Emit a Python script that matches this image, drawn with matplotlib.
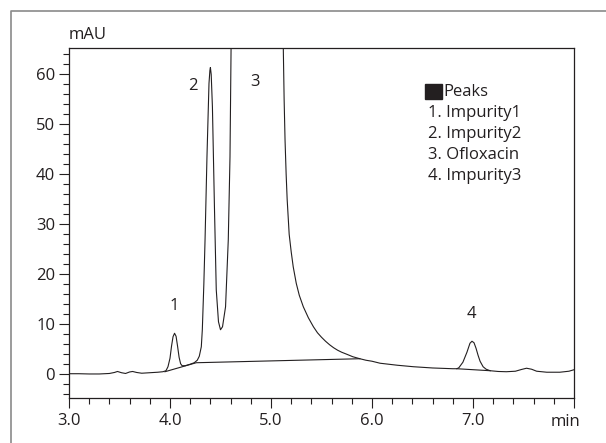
import matplotlib
matplotlib.use("Agg")
import matplotlib.pyplot as plt
from matplotlib.lines import Line2D
from matplotlib.patches import Rectangle
from matplotlib.ticker import MultipleLocator

plt.rcParams['font.family'] = ['Open Sans', 'DejaVu Sans']

# Chromatogram trace (time in min, signal in mAU)
time_min = [3.00, 3.10, 3.20, 3.30, 3.40, 3.45, 3.48, 3.52, 3.56, 3.60, 3.63, 3.67, 3.72, 3.80, 3.88, 3.93,
            3.96, 3.98, 4.00, 4.015, 4.03, 4.045, 4.06, 4.075, 4.09, 4.105, 4.12, 4.15, 4.20, 4.24, 4.27, 4.29,
            4.31, 4.32, 4.335, 4.347, 4.366, 4.386, 4.395, 4.40, 4.408, 4.42, 4.44, 4.458, 4.48, 4.50, 4.52,
            4.55, 4.577, 4.594, 4.605, 4.62, 5.10, 5.122, 5.13, 5.139, 5.15, 5.16, 5.18, 5.20, 5.22, 5.25,
            5.28, 5.32, 5.37, 5.42, 5.46, 5.50, 5.54, 5.58, 5.62, 5.66, 5.70, 5.75, 5.81, 5.88, 5.94,
            6.00, 6.08, 6.25, 6.41, 6.60, 6.80, 6.84, 6.86, 6.90, 6.94, 6.97, 6.99, 7.01, 7.03, 7.05, 7.07,
            7.10, 7.13, 7.17, 7.25, 7.33, 7.42, 7.48, 7.53, 7.58, 7.63, 7.73, 7.86, 7.95, 8.00]
signal_mau = [0.10, 0.10, 0.05, 0.05, 0.15, 0.35, 0.55, 0.30, 0.15, 0.45, 0.55, 0.35, 0.20, 0.30, 0.40, 0.50,
              0.70, 1.50, 3.20, 5.60, 7.50, 8.20, 7.60, 5.60, 3.40, 2.10, 1.70, 1.70, 2.00, 2.30, 2.80, 3.60,
              5.50, 8.90, 18.0, 26.9, 43.5, 58.2, 60.8, 61.4, 60.0, 53.5, 33.5, 16.9, 10.5, 8.90, 9.50,
              13.5, 26.9, 43.5, 66.0, 150.0, 150.0, 65.0, 55.0, 46.9, 40.0, 35.0, 28.0, 24.5, 21.5, 18.2,
              15.8, 13.5, 11.3, 9.50, 8.30, 7.40, 6.60, 5.90, 5.30, 4.80, 4.40, 4.00, 3.50, 3.10, 2.80,
              2.60, 2.20, 1.80, 1.50, 1.25, 1.10, 1.10, 1.30, 2.40, 4.40, 6.20, 6.60, 6.30, 5.20, 3.80, 2.60,
              1.50, 1.00, 0.70, 0.55, 0.50, 0.60, 0.95, 1.20, 1.00, 0.60, 0.40, 0.40, 0.60, 0.90]

# Integration baselines
base1_t = [3.95, 4.26, 5.88]
base1_v = [0.50, 2.30, 3.10]
base2_t = [6.84, 7.17]
base2_v = [1.10, 0.70]

# Peak labels
peak_ids = ["1", "2", "3", "4"]
peak_label_t = [4.04, 4.23, 4.84, 6.98]
peak_label_v = [13.7, 57.7, 58.5, 12.0]

legend_title = "Peaks"
legend_items = ["1. Impurity1", "2. Impurity2", "3. Ofloxacin", "4. Impurity3"]

x_ticks = [3.0, 4.0, 5.0, 6.0, 7.0, 8.0]
x_ticklabels = ["3.0", "4.0", "5.0", "6.0", "7.0", ""]
y_ticks = [0, 10, 20, 30, 40, 50, 60]

W, H = 606, 443
FS = 12
fig = plt.figure(figsize=(W / 100, H / 100), dpi=100)
ax = fig.add_axes([69 / W, 1 - 397.7 / H, (574 - 69) / W, (397.7 - 48) / H])

ink = "#231f20"
ax.plot(time_min, signal_mau, color=ink, lw=0.8)
ax.plot(base1_t, base1_v, color=ink, lw=0.8)
ax.plot(base2_t, base2_v, color=ink, lw=0.8)

ax.set_xlim(3.0, 8.0)
ax.set_ylim(-4.7, 65.3)
ax.set_xticks(x_ticks)
ax.set_xticklabels(x_ticklabels)
ax.set_yticks(y_ticks)
ax.xaxis.set_minor_locator(MultipleLocator(0.2))
ax.yaxis.set_minor_locator(MultipleLocator(2))
ax.tick_params(which='major', direction='out', length=7, width=0.8, color=ink,
               labelsize=FS, labelcolor=ink)
ax.tick_params(which='minor', direction='out', length=4, width=0.8, color=ink)
ax.tick_params(axis='x', which='major', pad=4)
ax.tick_params(axis='y', which='major', pad=3)
for s in ax.spines.values():
    s.set_color(ink)
    s.set_linewidth(0.9)

for lab, t, v in zip(peak_ids, peak_label_t, peak_label_v):
    ax.text(t, v, lab, ha='center', va='center', fontsize=FS, color=ink)

# axis unit labels
fig.text(69 / W, 1 - 35 / H, "mAU", ha='left', va='center', fontsize=FS, color=ink)
fig.text(565 / W, 1 - 421.5 / H, "min", ha='center', va='center', fontsize=FS, color=ink)

# legend
fig.patches.append(Rectangle((425 / W, 1 - 99 / H), 17 / W, 15 / H, transform=fig.transFigure,
                             facecolor=ink, edgecolor=ink, figure=fig))
fig.text(443 / W, 1 - 92 / H, legend_title, ha='left', va='center', fontsize=FS, color=ink)
for i, item in enumerate(legend_items):
    fig.text(428 / W, 1 - (113 + 21 * i) / H, item, ha='left', va='center', fontsize=FS, color=ink)

# outer frame (top and left edges)
fig.lines.append(Line2D([11 / W, 11 / W, 1.0], [0.0, 1 - 11 / H, 1 - 11 / H],
                        transform=fig.transFigure, color="#8a8a8a", lw=1.2))

fig.savefig("out.png", dpi=100)
